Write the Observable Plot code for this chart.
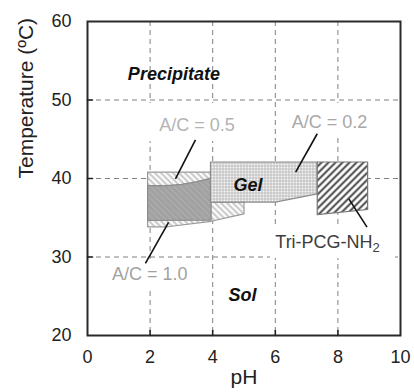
<!DOCTYPE html>
<html>
<head>
<meta charset="utf-8">
<script src="https://cdn.jsdelivr.net/npm/d3@7"></script>
<script src="https://cdn.jsdelivr.net/npm/@observablehq/plot@0.6"></script>
<style>
  html, body { margin: 0; padding: 0; background: white; }
</style>
</head>
<body>
<div id="chart"></div>
<script>
// ---- axes ----
const xTicks = [0, 2, 4, 6, 8, 10];
const yTicks = [20, 30, 40, 50, 60];
const xDomain = [0, 10];
const yDomain = [20, 60];

// ---- phase regions (pH, temperature °C) ----
const ac05PH = [1.92, 3.95, 3.95, 5.0, 5.0, 3.95, 2.55, 1.92, 1.92];
const ac05T  = [40.8, 40.8, 37.0, 37.0, 35.5, 34.55, 33.85, 33.85, 40.8];

const ac10PH = [1.92, 2.5, 3.0, 3.5, 3.95, 3.95, 1.92, 1.92];
const ac10T  = [39.1, 39.1, 39.25, 39.6, 40.05, 34.7, 34.65, 39.1];

const ac02PH = [3.93, 7.34, 7.34, 6.0, 3.93, 3.93];
const ac02T  = [42.1, 42.1, 38.05, 37.0, 37.0, 42.1];

const triPH = [7.34, 8.95, 8.95, 7.34, 7.34];
const triT  = [42.1, 42.1, 36.05, 35.4, 42.1];

// ---- phase names ----
const phaseNames = ["Precipitate", "Gel", "Sol"];
const phasePH = [2.76, 5.13, 4.95];
const phaseT = [53.25, 39.1, 25.1];

// ---- callouts ----
const calloutText = ["A/C = 0.5", "A/C = 0.2", "A/C = 1.0", "Tri-PCG-NH"];
const calloutPH = [3.5, 7.73, 1.99, 6.0];
const calloutT = [46.75, 47.2, 27.85, 31.9];
const calloutColor = ["#b4b4b4", "#a8a8a8", "#a2a2a2", "#3c3c3c"];
const boxPH1 = [1.88, 6.17, 0.42, 5.85];
const boxPH2 = [5.0, 9.23, 3.51, 9.84];
const boxT1 = [44.7, 45.5, 25.6, 29.8];
const boxT2 = [49.55, 49.55, 29.7, 33.9];
const leadPH1 = [3.45, 7.34, 2.59, 8.35];
const leadT1 = [44.93, 45.7, 34.4, 37.4];
const leadPH2 = [2.81, 6.65, 1.85, 8.93];
const leadT2 = [39.96, 40.8, 29.2, 33.8];

const poly = (xs, ys) => xs.map((x, i) => ({x, y: ys[i]}));
const idx = (arr) => arr.map((_, i) => i);

const tickLine = {draw(context, l) { context.moveTo(0, 0); context.lineTo(0, -l); }};

const innerX = xTicks.filter(v => v > xDomain[0] && v < xDomain[1]);
const innerY = yTicks.filter(v => v > yDomain[0] && v < yDomain[1]);

const callouts = idx(calloutText);

const chart = Plot.plot({
  width: 414,
  height: 392,
  marginLeft: 87,
  marginRight: 14,
  marginTop: 21,
  marginBottom: 57,
  style: {fontFamily: "'Liberation Sans', Arial, sans-serif", background: "white", color: "#222"},
  x: {domain: xDomain, ticks: xTicks},
  y: {domain: yDomain, ticks: yTicks},
  marks: [
    Plot.gridX(innerX, {stroke: "#808080", strokeOpacity: 1, strokeWidth: 1, strokeDasharray: "5,4"}),
    Plot.gridY(innerY, {stroke: "#808080", strokeOpacity: 1, strokeWidth: 1, strokeDasharray: "5,4"}),
    Plot.line(poly(ac05PH, ac05T), {x: "x", y: "y", fill: "url(#hatch05)", stroke: "#9a9a9a", strokeWidth: 1.2, curve: "linear"}),
    Plot.line(poly(ac10PH, ac10T), {x: "x", y: "y", fill: "url(#hatch10)", stroke: "#8c8c8c", strokeWidth: 1.2, curve: "linear"}),
    Plot.line(poly(ac02PH, ac02T), {x: "x", y: "y", fill: "url(#grid02)", stroke: "#8c8c8c", strokeWidth: 1.2, curve: "linear"}),
    Plot.line(poly(triPH, triT), {x: "x", y: "y", fill: "url(#hatchTri)", stroke: "#777", strokeWidth: 1.2, curve: "linear"}),
    Plot.rect(callouts, {x1: i => boxPH1[i], x2: i => boxPH2[i], y1: i => boxT1[i], y2: i => boxT2[i], fill: "white"}),
    ...callouts.map(i => Plot.text([calloutText[i]], {
      x: calloutPH[i], y: calloutT[i], text: d => d, fill: calloutColor[i], fontSize: 18,
      textAnchor: i === 3 ? "start" : "middle"
    })),
    Plot.link(callouts, {x1: i => leadPH1[i], y1: i => leadT1[i], x2: i => leadPH2[i], y2: i => leadT2[i], stroke: "#111", strokeWidth: 1.6}),
    Plot.text(idx(phaseNames), {x: i => phasePH[i], y: i => phaseT[i], text: i => phaseNames[i], fontSize: 18, fontWeight: "bold", fontStyle: "italic", fill: "#111"}),
    Plot.frame({stroke: "#2a2a2a", strokeWidth: 2}),
    Plot.vector(innerX, {x: d => d, y: yDomain[0], length: 5, anchor: "start", rotate: 0, shape: tickLine, stroke: "#222", strokeWidth: 1.6}),
    Plot.vector(innerY, {x: xDomain[0], y: d => d, length: 5, anchor: "start", rotate: 90, shape: tickLine, stroke: "#222", strokeWidth: 1.6}),
    Plot.axisX({ticks: xTicks, tickSize: 0, tickPadding: 15, fontSize: 18, label: null, fill: "#222"}),
    Plot.axisY({ticks: yTicks, tickSize: 0, tickPadding: 16, fontSize: 18, label: null, fill: "#222"}),
    Plot.text(["pH"], {frameAnchor: "bottom", dy: 48, fontSize: 21, fill: "#222"}),
    Plot.text(["Temperature (ºC)"], {frameAnchor: "left", dx: -61, rotate: -90, fontSize: 21, fill: "#222"})
  ]
});

// pattern definitions
const svg = d3.select(chart.tagName.toLowerCase() === "svg" ? chart : chart.querySelector("svg"));
const defs = svg.insert("defs", ":first-child");

const p05 = defs.append("pattern").attr("id", "hatch05").attr("patternUnits", "userSpaceOnUse").attr("width", 6).attr("height", 6);
p05.append("rect").attr("width", 6).attr("height", 6).attr("fill", "white");
p05.append("path").attr("d", "M-1,-1L7,7M-1,5L1,7M5,-1L7,1").attr("stroke", "#bdbdbd").attr("stroke-width", 1.6);

const p10 = defs.append("pattern").attr("id", "hatch10").attr("patternUnits", "userSpaceOnUse").attr("width", 6).attr("height", 6);
p10.append("rect").attr("width", 6).attr("height", 6).attr("fill", "#a0a0a0");
p10.append("path").attr("d", "M-1,-1L7,7M-1,5L1,7M5,-1L7,1").attr("stroke", "#b2b2b2").attr("stroke-width", 1.2);

const p02 = defs.append("pattern").attr("id", "grid02").attr("patternUnits", "userSpaceOnUse").attr("width", 3).attr("height", 3);
p02.append("rect").attr("width", 3).attr("height", 3).attr("fill", "#f6f6f6");
p02.append("path").attr("d", "M0,0.5H3M0.5,0V3").attr("stroke", "#b8b8b8").attr("stroke-width", 0.9);

const pTri = defs.append("pattern").attr("id", "hatchTri").attr("patternUnits", "userSpaceOnUse").attr("width", 7).attr("height", 7);
pTri.append("rect").attr("width", 7).attr("height", 7).attr("fill", "white");
pTri.append("path").attr("d", "M-1,8L8,-1M-1,1L1,-1M6,8L8,6").attr("stroke", "#333").attr("stroke-width", 1.8);

// subscript for NH2
svg.selectAll("text").each(function() {
  if (this.textContent === "Tri-PCG-NH") {
    d3.select(this).append("tspan").attr("dy", "0.32em").attr("font-size", 13).text("2");
  }
});

document.getElementById("chart").append(chart);
</script>
</body>
</html>
